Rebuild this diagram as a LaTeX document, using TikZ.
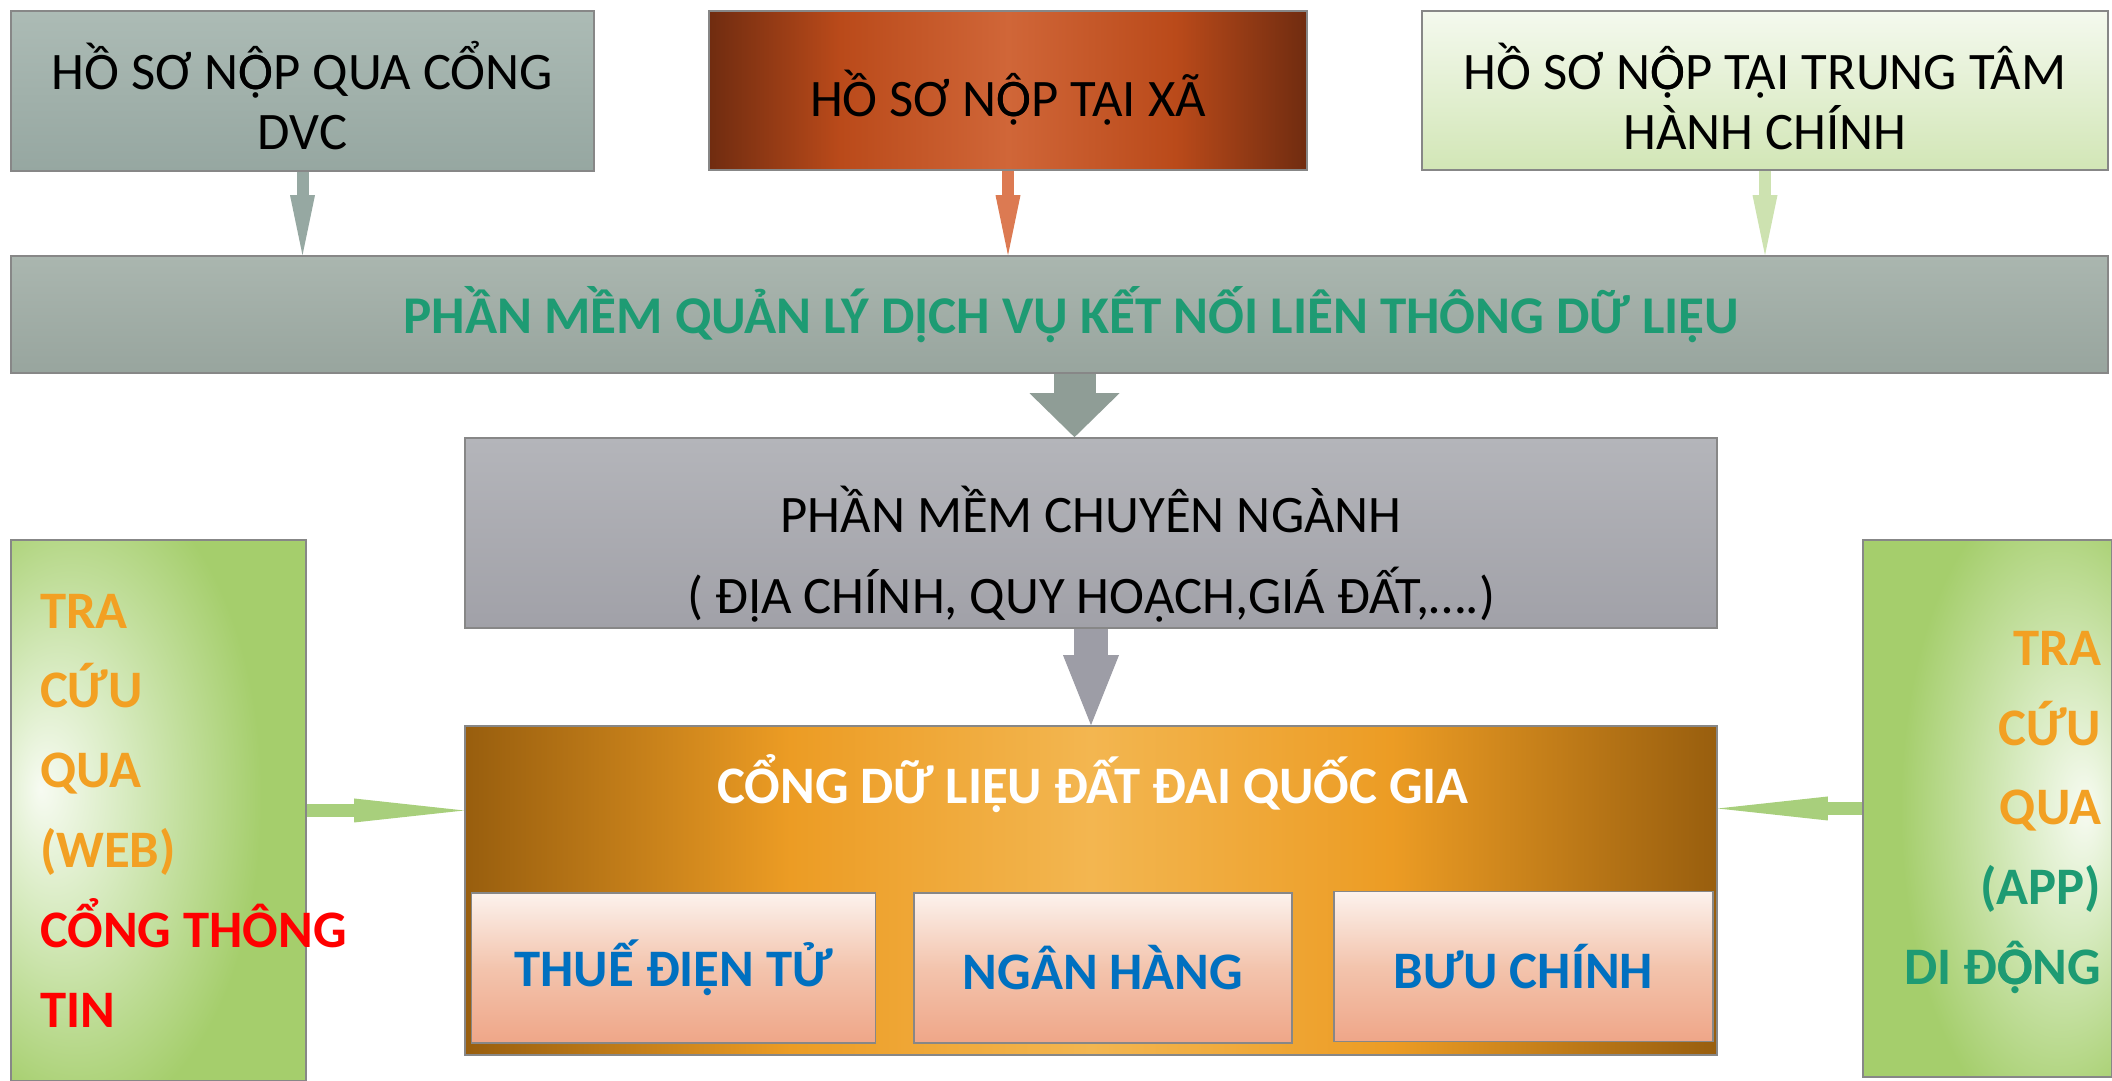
\documentclass[tikz,border=0pt]{standalone}
\usepackage{fontspec}
\setmainfont{Carlito}
\usetikzlibrary{arrows.meta,positioning,shadings}

\newcommand{\Ocd}{\rlap{Ô}Ọ}

\definecolor{boxline}{RGB}{135,135,135}
\definecolor{dvcTop}{RGB}{172,187,181}
\definecolor{dvcBot}{RGB}{150,167,161}
\definecolor{barTop}{RGB}{170,182,175}
\definecolor{barBot}{RGB}{152,165,158}
\definecolor{ttamTop}{RGB}{244,249,238}
\definecolor{ttamBot}{RGB}{210,230,182}
\definecolor{chuyenTop}{RGB}{180,181,186}
\definecolor{chuyenBot}{RGB}{161,161,168}
\definecolor{xaLight}{RGB}{208,102,56}
\definecolor{xaMid}{RGB}{186,74,26}
\definecolor{xaDark}{RGB}{112,44,16}
\definecolor{congLight}{RGB}{243,182,80}
\definecolor{congOrange}{RGB}{236,156,36}
\definecolor{congDark}{RGB}{152,94,14}
\definecolor{innerTop}{RGB}{252,242,237}
\definecolor{innerMid}{RGB}{243,196,173}
\definecolor{innerBot}{RGB}{239,166,136}
\definecolor{webLight}{RGB}{247,251,242}
\definecolor{webMid}{RGB}{214,234,190}
\definecolor{webDark}{RGB}{165,206,108}
\definecolor{tealText}{RGB}{30,155,115}
\definecolor{orangeText}{RGB}{242,160,35}
\definecolor{blueText}{RGB}{0,112,192}
\definecolor{dvcArrow}{RGB}{150,168,162}
\definecolor{xaArrow}{RGB}{220,122,82}
\definecolor{ttamArrow}{RGB}{205,226,176}
\definecolor{bigArrow}{RGB}{143,157,150}
\definecolor{chuyenArrow}{RGB}{157,157,166}
\definecolor{sideArrow}{RGB}{168,207,124}

\pgfdeclarehorizontalshading{xashade}{100bp}{color(0bp)=(xaDark); color(25bp)=(xaDark); color(36bp)=(xaMid); color(50bp)=(xaLight); color(64bp)=(xaMid); color(75bp)=(xaDark); color(100bp)=(xaDark)}
\pgfdeclarehorizontalshading{congshade}{100bp}{color(0bp)=(congDark); color(25bp)=(congDark); color(38bp)=(congOrange); color(50bp)=(congLight); color(62bp)=(congOrange); color(75bp)=(congDark); color(100bp)=(congDark)}
\pgfdeclareradialshading{webshade}{\pgfpoint{-20bp}{2bp}}{color(0bp)=(webLight); color(12bp)=(webMid); color(30bp)=(webDark); color(80bp)=(webDark)}
\pgfdeclareradialshading{appshade}{\pgfpoint{20bp}{0bp}}{color(0bp)=(webLight); color(12bp)=(webMid); color(30bp)=(webDark); color(80bp)=(webDark)}

\begin{document}
\begin{tikzpicture}
	[font=\fontsize{15}{17}\selectfont,
	box/.style={draw=boxline,line width=0.45pt,inner sep=0pt,align=center},
	inner/.style={box,minimum height=1.5cm,top color=innerTop,bottom color=innerBot,middle color=innerMid,
		font=\fontsize{15}{17}\selectfont\bfseries,text=blueText},
	arc/.style={line width=0.12cm,-{Triangle[length=0.6cm,width=0.25cm,line width=0pt]}},
	bigarc/.style={line width=0.42cm,-{Triangle[length=0.44cm,width=0.9cm,line width=0pt]}},
	midarc/.style={line width=0.34cm,-{Triangle[length=0.7cm,width=0.56cm,line width=0pt]}},
	sidearc/.style={line width=0.13cm,-{Triangle[length=1.1cm,width=0.24cm,line width=0pt]}}]
	\useasboundingbox (0,0) rectangle (21.12,-10.81);

	\node (dvc) [box,minimum width=5.83cm,minimum height=1.6cm,top color=dvcTop,bottom color=dvcBot] at (3.025,-0.91) {\rule{0pt}{0.58cm}HỒ SƠ N\Ocd P QUA CỔNG\\DVC};
	\node (xa) [box,minimum width=5.98cm,minimum height=1.59cm,shading=xashade] at (10.08,-0.905) {\rule{0pt}{0.6cm}HỒ SƠ N\Ocd P TẠI XÃ};
	\node (ttam) [box,minimum width=6.86cm,minimum height=1.59cm,top color=ttamTop,bottom color=ttamBot] at (17.65,-0.905) {\rule{0pt}{0.58cm}HỒ SƠ N\Ocd P TẠI TRUNG TÂM\\HÀNH CHÍNH};

	\node (bar) [box,minimum width=20.97cm,minimum height=1.17cm,top color=barTop,bottom color=barBot,
		font=\fontsize{15.1}{17}\selectfont\bfseries,text=tealText] at (10.595,-3.145) {\hspace{0.24cm}PHẦN MỀM QUẢN LÝ DỊCH VỤ KẾT NỐI LIÊN THÔNG DỮ LIỆU};
	\node (chuyen) [box,minimum width=12.52cm,minimum height=1.9cm,top color=chuyenTop,bottom color=chuyenBot,
		font=\fontsize{15}{23}\selectfont] at (10.91,-5.33) {\rule{0pt}{0.88cm}PHẦN MỀM CHUYÊN NGÀNH\\( ĐỊA CHÍNH, QUY HOẠCH,GIÁ ĐẤT,….)};

	\node (cong) [box,minimum width=12.52cm,minimum height=3.29cm,shading=congshade] at (10.91,-8.905) {};
	\node (congtitle) [font=\fontsize{15}{17}\selectfont\bfseries,text=white] at (10.93,-7.84) {CỔNG DỮ LIỆU ĐẤT ĐAI QUỐC GIA};
	\node (thue) [inner,minimum width=4.04cm] at (6.735,-9.68) {THUẾ ĐIỆN TỬ};
	\node (nganhang) [inner,minimum width=3.78cm] at (11.03,-9.68) {NGÂN HÀNG};
	\node (buuchinh) [inner,minimum width=3.79cm] at (15.235,-9.665) {BƯU CHÍNH};

	\node (web) [box,minimum height=5.41cm,text width=2.37cm,inner xsep=0.29cm,align=flush left,shading=webshade,
		font=\fontsize{15}{22.7}\selectfont\bfseries,text=orangeText] at (1.585,-8.105)
		{TRA\\CỨU\\QUA\\(WEB)\\\textcolor{red}{\mbox{CỔNG THÔNG}}\\\textcolor{red}{TIN}};
	\node (app) [box,minimum height=5.37cm,text width=2.27cm,inner xsep=0.11cm,align=flush right,shading=appshade,
		font=\fontsize{15}{22.7}\selectfont\bfseries,text=orangeText] at (19.875,-8.085)
		{\rule{0pt}{0.42cm}TRA\\CỨU\\QUA\\\textcolor{tealText}{(APP)}\\\textcolor{tealText}{DI Đ\Ocd NG}};

	\coordinate (mid) at (10.745,0);

	\draw [arc,color=dvcArrow] (dvc.south) -- (dvc.south |- bar.north);
	\draw [arc,color=xaArrow] (xa.south) -- (xa.south |- bar.north);
	\draw [arc,color=ttamArrow] (ttam.south) -- (ttam.south |- bar.north);
	\draw [bigarc,color=bigArrow] (bar.south -| mid) -- (chuyen.north -| mid);
	\draw [midarc,color=chuyenArrow] (chuyen.south) -- (cong.north);
	\draw [sidearc,color=sideArrow] (web.east) -- (web.east -| cong.west);
	\draw [sidearc,color=sideArrow] (app.west) -- (app.west -| cong.east);
\end{tikzpicture}
\end{document}
